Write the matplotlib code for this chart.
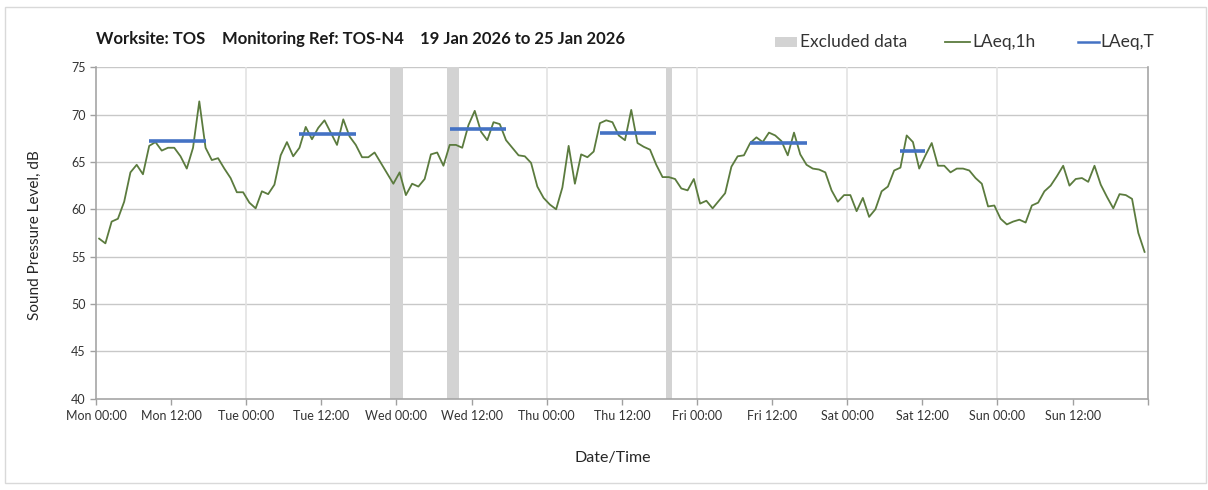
import numpy as np
import matplotlib
matplotlib.use("Agg")
import matplotlib.pyplot as plt
from matplotlib.lines import Line2D
from matplotlib.patches import Rectangle

plt.rcParams['font.family'] = ['Lato', 'DejaVu Sans']

# Hourly LAeq,1h values, Mon 00:00 .. Sun 23:00 (plotted at the middle of each hour)
laeq_1h = [
    56.9, 56.4, 58.7, 59.0, 60.8, 63.9, 64.7, 63.7, 66.7, 67.1, 66.2, 66.5,
    66.5, 65.6, 64.3, 66.5, 71.4, 66.5, 65.2, 65.4, 64.3, 63.3, 61.8, 61.8,
    60.7, 60.1, 61.9, 61.6, 62.6, 65.7, 67.1, 65.6, 66.5, 68.7, 67.4, 68.6,
    69.4, 68.1, 66.8, 69.5, 67.7, 66.8, 65.5, 65.5, 66.0, 64.9, 63.8, 62.7,
    63.9, 61.5, 62.7, 62.4, 63.2, 65.8, 66.0, 64.6, 66.8, 66.8, 66.5, 68.9,
    70.4, 68.2, 67.3, 69.2, 69.0, 67.3, 66.5, 65.7, 65.6, 64.9, 62.4, 61.2,
    60.5, 60.0, 62.3, 66.7, 62.7, 65.8, 65.5, 66.1, 69.1, 69.4, 69.2, 67.8,
    67.3, 70.5, 67.0, 66.6, 66.3, 64.7, 63.4, 63.4, 63.2, 62.2, 62.0, 63.2,
    60.6, 60.9, 60.1, 60.9, 61.7, 64.5, 65.6, 65.7, 67.0, 67.6, 67.1, 68.1,
    67.8, 67.2, 65.7, 68.1, 65.8, 64.7, 64.3, 64.2, 63.9, 62.0, 60.8, 61.5,
    61.5, 59.8, 61.2, 59.2, 60.0, 61.9, 62.4, 64.1, 64.4, 67.8, 67.1, 64.3,
    65.7, 67.0, 64.6, 64.6, 63.9, 64.3, 64.3, 64.1, 63.3, 62.7, 60.3, 60.4,
    59.0, 58.4, 58.7, 58.9, 58.6, 60.4, 60.7, 61.9, 62.5, 63.5, 64.6, 62.5,
    63.2, 63.3, 62.9, 64.6, 62.6, 61.3, 60.1, 61.6, 61.5, 61.1, 57.5, 55.5,
]
hour_start = np.arange(len(laeq_1h))

# Daytime LAeq,T periods (hour offsets from Mon 00:00)
period_start = [8, 32, 56, 80, 104, 128]
period_end = [18, 42, 66, 90, 114, 133]
laeq_t = [67.2, 68.0, 68.5, 68.1, 67.0, 66.2]

# Excluded data windows (hour offsets from Mon 00:00)
excl_start = [47, 56, 91]
excl_end = [49, 58, 92]

tick_hours = list(range(0, 169, 12))
tick_labels = ["Mon 00:00", "Mon 12:00", "Tue 00:00", "Tue 12:00", "Wed 00:00",
               "Wed 12:00", "Thu 00:00", "Thu 12:00", "Fri 00:00", "Fri 12:00",
               "Sat 00:00", "Sat 12:00", "Sun 00:00", "Sun 12:00", ""]

W, H = 1208, 490
fig = plt.figure(figsize=(W / 100, H / 100), dpi=100)
fig.patch.set_facecolor("white")

# outer chart frame
fig.add_artist(Rectangle((5 / W, 1 - 483 / H), 1201 / W, 476 / H,
                         transform=fig.transFigure, fill=False,
                         edgecolor="#d9d9d9", linewidth=1))

ax = fig.add_axes([96 / W, 1 - 398.6 / H, (1147.7 - 96) / W, (398.6 - 67.3) / H])

for s, e in zip(excl_start, excl_end):
    ax.axvspan(s, e, color="#d3d3d3", linewidth=0, zorder=1)

# grid
for y in range(45, 76, 5):
    ax.axhline(y, color="#c8c8c8", linewidth=1, zorder=0.5)
for d in range(24, 168, 24):
    ax.axvline(d, color="#e3e3e3", linewidth=1.2, zorder=0.5)

green = "#5b7b3e"
blue = "#4472c4"
ax.plot(hour_start + 0.5, laeq_1h, color=green, linewidth=1.3, zorder=3)
for s, e, v in zip(period_start, period_end, laeq_t):
    ax.plot([s + 0.5, e - 0.5], [v, v], color=blue, linewidth=2.6,
            solid_capstyle="butt", zorder=4)

ax.set_xlim(0, 168)
ax.set_ylim(40, 75)
ax.set_yticks(range(40, 76, 5))
ax.set_xticks(tick_hours)
ax.set_xticklabels(tick_labels)
ax.tick_params(axis="both", labelsize=9, colors="#a0a0a0", labelcolor="#333333",
               length=4, width=1)
ax.tick_params(axis="x", pad=4)
for side in ["left", "bottom", "right"]:
    ax.spines[side].set_color("#a6a6a6")
    ax.spines[side].set_linewidth(1.2)
ax.spines["top"].set_visible(False)

fig.text(35 / W, 1 - 235 / H, "Sound Pressure Level, dB", rotation=90,
         ha="center", va="center", fontsize=11, color="#262626")
fig.text(613 / W, 1 - 458 / H, "Date/Time", ha="center", va="center",
         fontsize=11.5, color="#262626")

# header
ty = 1 - 39 / H
fig.text(96 / W, ty, "Worksite: TOS", ha="left", va="center",
         fontsize=12, fontweight="bold", color="#1a1a1a")
fig.text(222 / W, ty, "Monitoring Ref: TOS-N4", ha="left", va="center",
         fontsize=12, fontweight="bold", color="#1a1a1a")
fig.text(420 / W, ty, "19 Jan 2026 to 25 Jan 2026", ha="left", va="center",
         fontsize=12, fontweight="bold", color="#1a1a1a")

# key
ly = 1 - 42 / H
fig.add_artist(Rectangle((775 / W, 1 - 47 / H), 22 / W, 10 / H,
                         transform=fig.transFigure, color="#d3d3d3", linewidth=0))
fig.text(800 / W, ly, "Excluded data", ha="left", va="center", fontsize=12.5,
         color="#333333")
fig.add_artist(Line2D([945 / W, 970 / W], [ly, ly], transform=fig.transFigure,
                      color=green, linewidth=1.3))
fig.text(972 / W, ly, "LAeq,1h", ha="left", va="center", fontsize=12.5,
         color="#333333")
fig.add_artist(Line2D([1078 / W, 1099 / W], [ly, ly], transform=fig.transFigure,
                      color=blue, linewidth=1.8))
fig.text(1100 / W, ly, "LAeq,T", ha="left", va="center", fontsize=12.5,
         color="#333333")

fig.savefig("out.png", dpi=100)
